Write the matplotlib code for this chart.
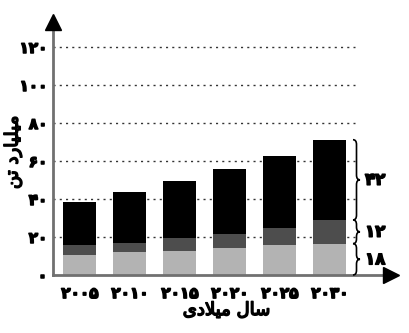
import matplotlib
matplotlib.use("Agg")
import matplotlib.pyplot as plt
import matplotlib.patheffects as pe
from matplotlib.path import Path
from matplotlib.patches import PathPatch

plt.rcParams['font.family'] = ['DejaVu Sans']
plt.rcParams['font.weight'] = 'bold'

# data
years = ['\u06f2\u06f0\u06f0\u06f5', '\u06f2\u06f0\u06f1\u06f0', '\u06f2\u06f0\u06f1\u06f5',
         '\u06f2\u06f0\u06f2\u06f0', '\u06f2\u06f0\u06f2\u06f5', '\u06f2\u06f0\u06f3\u06f0']
light = [10.4, 12.3, 12.6, 14.0, 16.0, 16.5]
dark = [5.2, 4.7, 6.9, 7.7, 8.7, 12.5]
black = [22.7, 26.5, 30.1, 34.3, 37.9, 42.2]
brace_labels = ['\u06f1\u06f8', '\u06f1\u06f2', '\u06f4\u06f2']
yticks = [0, 20, 40, 60, 80, 100, 120]
ytick_labels = ['\u06f0', '\u06f2\u06f0', '\u06f4\u06f0', '\u06f6\u06f0',
                '\u06f8\u06f0', '\u06f1\u06f0\u06f0', '\u06f1\u06f2\u06f0']
# shaped persian text (presentation forms, visual order)
ylabel = '\ufee6\ufe97 \ufea9\ufead\ufe8e\ufef4\ufee0\ufef4\ufee3'      # میلیارد تن
xlabel = '\ufeef\ufea9\ufefc\ufef4\ufee3 \ufedd\ufe8e\ufeb3'            # سال میلادی

heavy = [pe.withStroke(linewidth=1.1, foreground='black')]

fig = plt.figure(figsize=(4.1, 3.33), dpi=100)
ax = fig.add_axes([53/410, (333-275)/333, (400-53)/410, (275-14)/333])
xmin, xmax = -0.54, 6.4
ymax = 261/1.9
ax.set_xlim(xmin, xmax)
ax.set_ylim(0, ymax)
for s in ax.spines.values():
    s.set_visible(False)

x = range(len(years))
# dotted grid
ax.hlines(yticks[1:], xmin, 5.5, colors='#333333', linestyles=(0, (1.5, 3)), lw=1, zorder=1)

bottom2 = [a + b for a, b in zip(light, dark)]
ax.bar(x, light, width=0.66, color='#b3b3b3', zorder=2)
ax.bar(x, dark, width=0.66, bottom=light, color='#4d4d4d', zorder=2)
ax.bar(x, black, width=0.66, bottom=bottom2, color='black', zorder=2)

# axes with arrows
ax.plot([xmin, 6.15], [0, 0], color='#707070', lw=2, clip_on=False, zorder=3)
ax.plot([xmin, xmin], [0, ymax - 6], color='#707070', lw=2, clip_on=False, zorder=3)
ax.plot([6.22], [0], marker='>', ms=11, color='black', clip_on=False, zorder=4)
ax.plot([xmin], [ymax - 4], marker='^', ms=11, color='black', clip_on=False, zorder=4)

ax.set_xticks(list(x))
ax.set_xticklabels(years, fontsize=11)
ax.set_yticks(yticks)
ax.set_yticklabels(ytick_labels, fontsize=11)
for t in ax.get_xticklabels() + ax.get_yticklabels():
    t.set_path_effects(heavy)
ax.tick_params(length=0, axis='x', pad=8)
ax.tick_params(length=0, axis='y', pad=4)
ax.set_ylabel(ylabel, fontsize=13, path_effects=heavy)
ax.yaxis.set_label_coords(-0.089, 0.47)
ax.set_xlabel(xlabel, fontsize=13, labelpad=0, path_effects=heavy)


def brace(x0, y0, y1, d=0.14, r=2.5):
    ym = (y0 + y1) / 2
    r = min(r, (y1 - y0) / 4)
    xh = x0 + d / 2
    verts = [(x0, y1), (xh, y1), (xh, y1 - r), (xh, ym + r), (xh, ym), (x0 + d, ym),
             (xh, ym), (xh, ym - r), (xh, y0 + r), (xh, y0), (x0, y0)]
    codes = [Path.MOVETO, Path.CURVE3, Path.CURVE3, Path.LINETO, Path.CURVE3, Path.CURVE3,
             Path.CURVE3, Path.CURVE3, Path.LINETO, Path.CURVE3, Path.CURVE3]
    ax.add_patch(PathPatch(Path(verts, codes), fill=False, lw=1.2, color='black',
                           clip_on=False, zorder=4))
    return ym


last = len(years) - 1
edges = [0, light[last], bottom2[last], bottom2[last] + black[last]]
for i, lab in enumerate(brace_labels):
    ym = brace(5.46, edges[i], edges[i + 1])
    ax.text(5.7, ym, lab, fontsize=12, ha='left', va='center', clip_on=False,
            path_effects=heavy)

fig.savefig('out.png', dpi=100)
